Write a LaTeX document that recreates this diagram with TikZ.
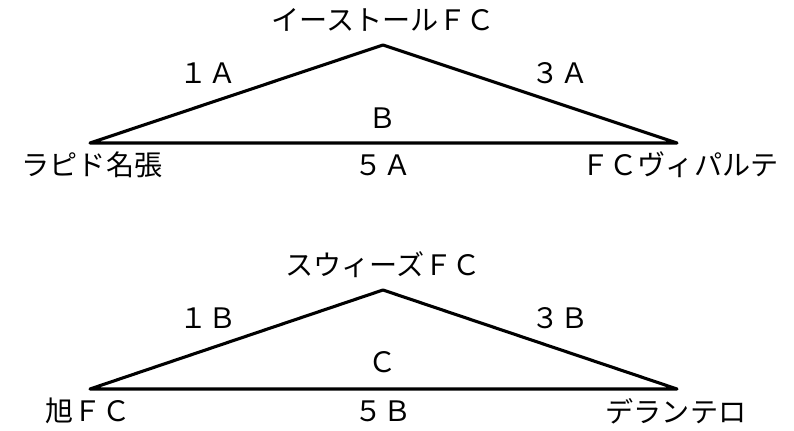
\documentclass[tikz,border=0pt]{standalone}
\usepackage{fontspec}
\setmainfont{Noto Sans CJK JP}

\begin{document}
\begin{tikzpicture}[x=0.025cm,y=-0.025cm,
    team/.style={font=\fontsize{20}{24}\selectfont, inner sep=0pt},
    side/.style={line width=2.2pt, line join=round}]
        \useasboundingbox (0,0) rectangle (794,431);
        % upper triangle
        \coordinate (l1) at (90,143);
        \coordinate (t1) at (383,45);
        \coordinate (r1) at (677,143);
        \draw[side] (l1) -- (t1) -- (r1) -- cycle;
        \node[team] (top1) at (383,20) {イーストールＦＣ};
        \node[team] (left1) at (92,165) {ラピド名張};
        \node[team] (right1) at (680,165) {ＦＣヴィパルテ};
        \node[team] (s1a) at (208,73) {１Ａ};
        \node[team] (s3a) at (560,73) {３Ａ};
        \node[team] (in1) at (383,118) {Ｂ};
        \node[team] (s5a) at (383,165) {５Ａ};
        % lower triangle
        \coordinate (l2) at (90,389);
        \coordinate (t2) at (383,290);
        \coordinate (r2) at (677,389);
        \draw[side] (l2) -- (t2) -- (r2) -- cycle;
        \node[team] (top2) at (383,265) {スウィーズＦＣ};
        \node[team] (left2) at (88,411) {旭ＦＣ};
        \node[team] (right2) at (676,411) {デランテロ};
        \node[team] (s1b) at (208,318) {１Ｂ};
        \node[team] (s3b) at (560,318) {３Ｂ};
        \node[team] (in2) at (383,362) {Ｃ};
        \node[team] (s5b) at (383,411) {５Ｂ};
\end{tikzpicture}
\end{document}
